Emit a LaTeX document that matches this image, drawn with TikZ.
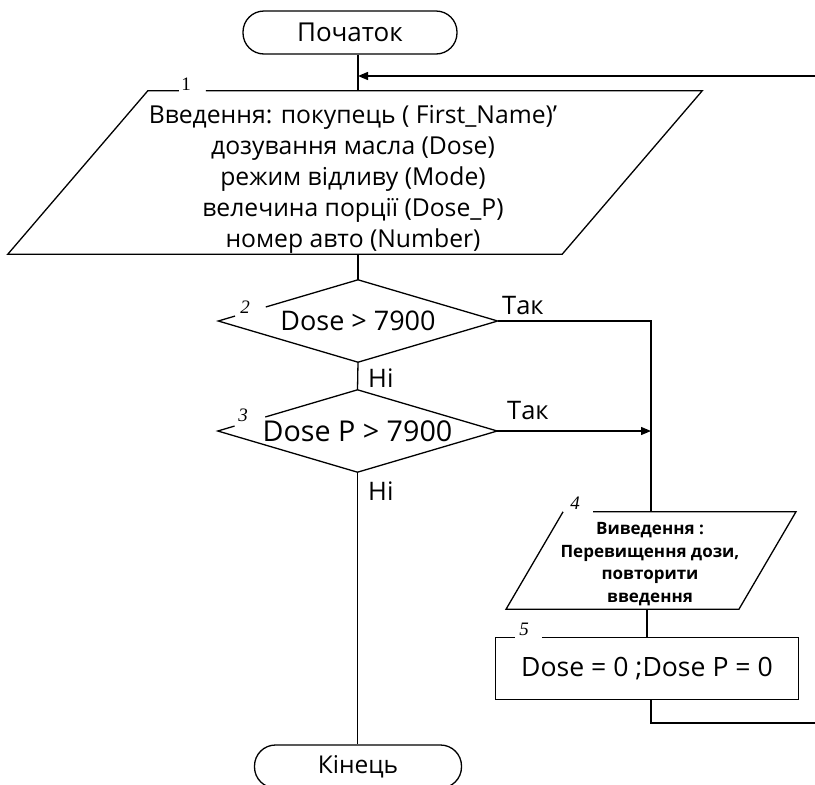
\documentclass[tikz,border=0pt]{standalone}
\usepackage{fontspec}
\setmainfont{Open Sans}
\newfontfamily\numfont{Liberation Serif}
\usetikzlibrary{shapes.geometric,arrows.meta,calc}

\tikzset{
  base/.style={line width=1.3pt},
  term/.style={base, draw, rectangle, rounded corners=21pt, inner sep=0pt},
  decide/.style={diamond, shape aspect=3.4, inner sep=0pt, minimum width=279pt, minimum height=82pt},
  frame/.style={rectangle, inner sep=0pt},
  lbl/.style={font=\fontsize{25.5}{26}\selectfont, inner sep=0pt},
  num/.style={font=\numfont\fontsize{19}{20}\selectfont\itshape, inner sep=0pt},
  flow/.style={base},
  arr/.style={base, -{Triangle[length=10pt,width=8pt]}}
}

\begin{document}
\begin{tikzpicture}[x=1pt,y=-1pt]
\useasboundingbox (0,0) rectangle (815,785);
\begin{scope}
\clip (0,0) rectangle (815,785);

% terminals
\node[term, minimum width=214pt, minimum height=43pt, font=\fontsize{26}{28}\selectfont] (st) at (350,32.5) {Початок};
\node[term, minimum width=207pt, minimum height=43pt, font=\fontsize{24.5}{26}\selectfont] (et) at (358,766.5) {Кінець};

% input block 1
\node[frame, minimum width=554pt, minimum height=163pt] (p1) at (355,172.5) {};
\node[align=center, inner sep=0pt, font=\fontsize{24.7}{31}\selectfont] (p1txt) at (353,179.5)
  {Введення: покупець ( First\_Name)'\\ дозування масла (Dose)\\ режим відливу (Mode)\\ велечина порції (Dose\_P)\\ номер авто (Number)};
\draw[base] ($(p1.north west)+(128,0)$) -- ($(p1.north east)+(70,0)$) -- ($(p1.south east)+(-70,0)$)
  -- ($(p1.south west)+(-70,0)$) -- ($(p1.north west)+(70,0)$) -- ($(p1.north west)+(101,0)$);
\node[num, font=\numfont\fontsize{19}{20}\selectfont] (n1) at (186,84) {1};

% decisions
\node[decide, font=\fontsize{27}{29}\selectfont] (d2) at (358,321) {Dose > 7900};
\draw[base] ($(d2.west)!0.34!(d2.north)$) -- (d2.north) -- (d2.east) -- (d2.south) -- (d2.west) -- ($(d2.west)!0.12!(d2.north)$);
\node[num] (n2) at (245,307) {2};

\node[decide, font=\fontsize{28.7}{30}\selectfont] (d3) at (357.5,431) {Dose P > 7900};
\draw[base] ($(d3.west)!0.34!(d3.north)$) -- (d3.north) -- (d3.east) -- (d3.south) -- (d3.west) -- ($(d3.west)!0.12!(d3.north)$);
\node[num] (n3) at (243,415) {3};

% output block 4
\node[frame, minimum width=232.5pt, minimum height=97pt] (p4) at (651,560.5) {};
\node[align=center, inner sep=0pt, font=\fontsize{17}{22.7}\selectfont\bfseries] (p4txt) at (650,564)
  {Виведення :\\ Перевищення дози,\\ повторити\\ введення};
\draw[base] ($(p4.north west)+(58.5,0)$) -- ($(p4.north east)+(28.5,0)$) -- ($(p4.south east)+(-28.5,0)$)
  -- ($(p4.south west)+(-28.5,0)$) -- ($(p4.north west)+(28.5,0)$);
\node[num] (n4) at (575,503) {4};

% process block 5
\node[frame, minimum width=302pt, minimum height=61pt, font=\fontsize{26.6}{28}\selectfont] (r5) at (647,668.5) {Dose = 0 ;Dose P = 0};
\draw[base] ($(r5.north west)+(46,0)$) -- (r5.north east) -- (r5.south east) -- (r5.south west) -- (r5.north west) -- ($(r5.north west)+(19,0)$);
\node[num] (n5) at (524,629) {5};

% connectors
\coordinate (fb) at (815,76);
\coordinate (out) at (815,723);
\draw[flow] (st.south -| d2.north) -- (p1.north -| d2.north);
\draw[arr] (fb) -- (fb -| d2.north);
\draw[flow] (p1.south -| d2.north) -- (d2.north);
\draw[flow] (d2.south) -- (d3.north);
\draw[flow] (d3.south) -- (d3.south |- et.north);
\draw[flow] (d2.east) -- (d2.east -| p4.north) -- (p4.north);
\draw[arr] (d3.east) -- (d3.east -| p4.north);
\draw[flow] (r5.north |- p4.south) -- (r5.north);
\draw[flow] (r5.south -| p4.north) |- (out);

% branch labels
\node[lbl, anchor=west] (no2) at (368,378) {Ні};
\node[lbl, anchor=west] (no3) at (368,491) {Ні};
\node[lbl, anchor=west] (yes2) at (502,306) {Так};
\node[lbl, anchor=west] (yes3) at (507,411) {Так};
\end{scope}
\end{tikzpicture}
\end{document}
